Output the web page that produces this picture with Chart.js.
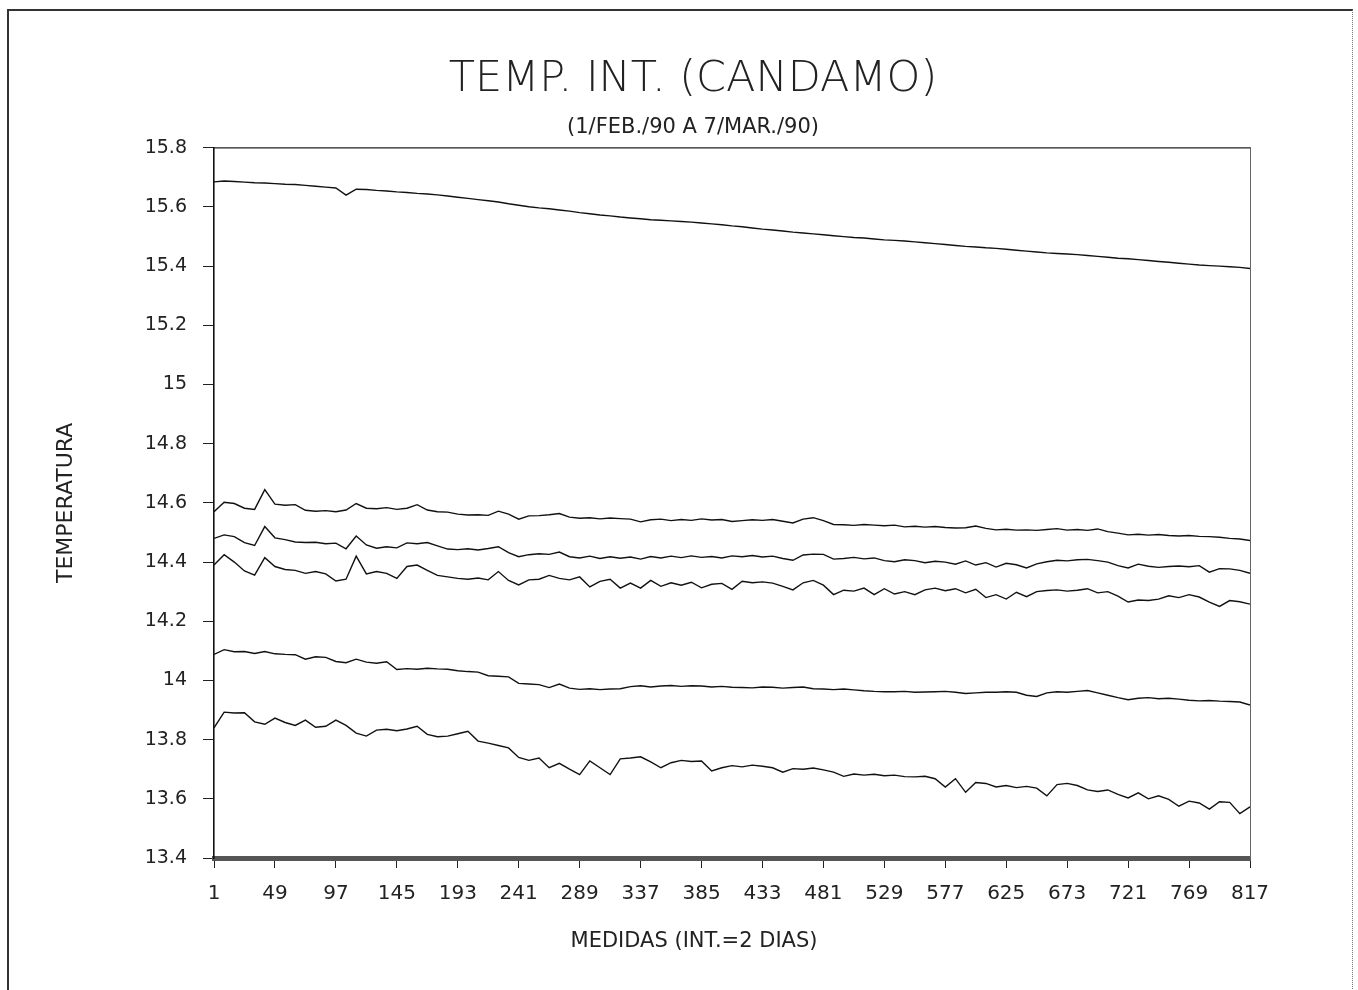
<!DOCTYPE html>
<html lang="es">
<head>
<meta charset="UTF-8">
<title>TEMP. INT. (CANDAMO)</title>
<style>
  html, body { margin: 0; padding: 0; background: #fff; overflow: hidden; }
  #hoja { position: relative; width: 1358px; height: 990px; overflow: hidden; }
  #marco {
    position: absolute; left: 7px; top: 9px; width: 1343px; height: 1000px;
    border-left: 2px solid #333; border-top: 2px solid #333; border-right: 1px dotted #777;
    pointer-events: none;
  }
  #graphic { position: absolute; left: 0; top: 0; }
</style>
</head>
<body>
<div id="hoja">
  <canvas id="graphic" width="1358" height="990"></canvas>
  <div id="marco"></div>
</div>
<script src="https://cdn.jsdelivr.net/npm/chart.js"></script>
<script>
// medidas (cada 8)
const medidas = [1, 9, 17, 25, 33, 41, 49, 57, 65, 73, 81, 89, 97, 105, 113, 121, 129, 137, 145, 153,
  161, 169, 177, 185, 193, 201, 209, 217, 225, 233, 241, 249, 257, 265, 273, 281, 289, 297, 305, 313,
  321, 329, 337, 345, 353, 361, 369, 377, 385, 393, 401, 409, 417, 425, 433, 441, 449, 457, 465, 473,
  481, 489, 497, 505, 513, 521, 529, 537, 545, 553, 561, 569, 577, 585, 593, 601, 609, 617, 625, 633,
  641, 649, 657, 665, 673, 681, 689, 697, 705, 713, 721, 729, 737, 745, 753, 761, 769, 777, 785, 793,
  801, 809, 817];

const xTicks = [1, 49, 97, 145, 193, 241, 289, 337, 385, 433, 481, 529, 577, 625, 673, 721, 769, 817];
const yTicks = [13.4, 13.6, 13.8, 14, 14.2, 14.4, 14.6, 14.8, 15, 15.2, 15.4, 15.6, 15.8];

const serie1 = [15.685, 15.688, 15.686, 15.684, 15.682, 15.681, 15.679, 15.677, 15.676, 15.673,
  15.670, 15.667, 15.664, 15.640, 15.660, 15.659, 15.656, 15.654, 15.651, 15.649,
  15.646, 15.644, 15.641, 15.637, 15.633, 15.629, 15.625, 15.621, 15.617, 15.611,
  15.606, 15.601, 15.597, 15.594, 15.590, 15.586, 15.581, 15.577, 15.573, 15.570,
  15.566, 15.563, 15.560, 15.557, 15.555, 15.553, 15.551, 15.549, 15.546, 15.543,
  15.540, 15.536, 15.533, 15.529, 15.525, 15.522, 15.519, 15.515, 15.512, 15.509,
  15.506, 15.503, 15.500, 15.497, 15.495, 15.492, 15.489, 15.487, 15.485, 15.482,
  15.479, 15.476, 15.473, 15.470, 15.467, 15.465, 15.462, 15.460, 15.457, 15.454,
  15.451, 15.448, 15.445, 15.443, 15.441, 15.439, 15.436, 15.433, 15.430, 15.427,
  15.425, 15.422, 15.419, 15.416, 15.413, 15.410, 15.407, 15.404, 15.402, 15.400,
  15.398, 15.396, 15.392];

const serie2 = [14.570, 14.602, 14.598, 14.582, 14.578, 14.645, 14.596, 14.592, 14.594, 14.575,
  14.572, 14.574, 14.570, 14.576, 14.598, 14.582, 14.580, 14.584, 14.578, 14.582,
  14.594, 14.576, 14.570, 14.569, 14.562, 14.559, 14.560, 14.558, 14.572, 14.562,
  14.545, 14.556, 14.557, 14.560, 14.564, 14.552, 14.548, 14.550, 14.546, 14.549,
  14.547, 14.545, 14.536, 14.543, 14.545, 14.540, 14.544, 14.541, 14.546, 14.542,
  14.544, 14.537, 14.540, 14.543, 14.541, 14.544, 14.538, 14.532, 14.545, 14.550,
  14.540, 14.527, 14.526, 14.524, 14.527, 14.525, 14.523, 14.525, 14.519, 14.521,
  14.518, 14.520, 14.517, 14.515, 14.516, 14.522, 14.514, 14.509, 14.511, 14.508,
  14.509, 14.507, 14.510, 14.513, 14.508, 14.510, 14.507, 14.512, 14.503, 14.498,
  14.492, 14.494, 14.491, 14.493, 14.490, 14.488, 14.490, 14.487, 14.486, 14.484,
  14.480, 14.478, 14.473];

const serie3 = [14.480, 14.492, 14.486, 14.466, 14.456, 14.520, 14.482, 14.476, 14.468, 14.466,
  14.467, 14.462, 14.464, 14.445, 14.488, 14.458, 14.447, 14.452, 14.448, 14.465,
  14.462, 14.466, 14.455, 14.444, 14.442, 14.445, 14.441, 14.446, 14.452, 14.432,
  14.418, 14.425, 14.428, 14.426, 14.434, 14.418, 14.414, 14.420, 14.412, 14.418,
  14.413, 14.417, 14.410, 14.419, 14.414, 14.420, 14.415, 14.421, 14.416, 14.419,
  14.414, 14.421, 14.418, 14.422, 14.417, 14.420, 14.412, 14.406, 14.424, 14.427,
  14.426, 14.410, 14.412, 14.416, 14.411, 14.414, 14.405, 14.401, 14.408, 14.405,
  14.398, 14.403, 14.400, 14.393, 14.404, 14.390, 14.398, 14.383, 14.396, 14.391,
  14.380, 14.394, 14.401, 14.406, 14.404, 14.408, 14.409, 14.405, 14.400, 14.388,
  14.380, 14.393, 14.386, 14.382, 14.385, 14.387, 14.384, 14.388, 14.366, 14.378,
  14.377, 14.372, 14.362];

const serie4 = [14.390, 14.425, 14.400, 14.370, 14.356, 14.415, 14.385, 14.375, 14.372, 14.362,
  14.368, 14.360, 14.336, 14.342, 14.420, 14.360, 14.368, 14.362, 14.345, 14.385,
  14.390, 14.372, 14.355, 14.350, 14.345, 14.342, 14.346, 14.340, 14.368, 14.338,
  14.323, 14.340, 14.342, 14.355, 14.345, 14.340, 14.350, 14.316, 14.335, 14.342,
  14.312, 14.329, 14.312, 14.338, 14.318, 14.330, 14.322, 14.332, 14.313, 14.325,
  14.328, 14.308, 14.335, 14.330, 14.333, 14.329, 14.318, 14.306, 14.330, 14.338,
  14.322, 14.290, 14.305, 14.302, 14.312, 14.290, 14.310, 14.292, 14.300, 14.290,
  14.306, 14.312, 14.303, 14.310, 14.296, 14.308, 14.280, 14.290, 14.275, 14.298,
  14.283, 14.300, 14.304, 14.306, 14.302, 14.305, 14.310, 14.296, 14.300, 14.285,
  14.265, 14.272, 14.270, 14.275, 14.286, 14.280, 14.290, 14.282, 14.265, 14.250,
  14.270, 14.266, 14.258];

const serie5 = [14.088, 14.104, 14.097, 14.098, 14.091, 14.098, 14.090, 14.088, 14.087, 14.072,
  14.080, 14.078, 14.064, 14.060, 14.072, 14.062, 14.058, 14.063, 14.037, 14.040,
  14.038, 14.041, 14.039, 14.038, 14.033, 14.030, 14.028, 14.016, 14.014, 14.012,
  13.990, 13.988, 13.986, 13.976, 13.988, 13.974, 13.970, 13.972, 13.969, 13.971,
  13.972, 13.979, 13.982, 13.978, 13.981, 13.983, 13.980, 13.982, 13.981, 13.978,
  13.980, 13.977, 13.976, 13.975, 13.978, 13.977, 13.974, 13.976, 13.978, 13.972,
  13.971, 13.969, 13.971, 13.968, 13.965, 13.963, 13.962, 13.962, 13.963, 13.960,
  13.961, 13.962, 13.963, 13.960, 13.956, 13.958, 13.960, 13.960, 13.962, 13.960,
  13.950, 13.946, 13.958, 13.962, 13.960, 13.963, 13.966, 13.958, 13.950, 13.942,
  13.935, 13.940, 13.942, 13.938, 13.940, 13.937, 13.933, 13.931, 13.932, 13.930,
  13.929, 13.927, 13.917];

const serie6 = [13.840, 13.893, 13.890, 13.891, 13.860, 13.852, 13.873, 13.858, 13.848, 13.866,
  13.842, 13.845, 13.866, 13.848, 13.822, 13.812, 13.832, 13.835, 13.830, 13.836,
  13.845, 13.818, 13.810, 13.812, 13.820, 13.828, 13.795, 13.788, 13.780, 13.772,
  13.740, 13.730, 13.738, 13.705, 13.720, 13.700, 13.682, 13.728, 13.705, 13.682,
  13.735, 13.738, 13.742, 13.725, 13.705, 13.722, 13.730, 13.726, 13.728, 13.694,
  13.705, 13.712, 13.708, 13.714, 13.710, 13.705, 13.690, 13.702, 13.700, 13.704,
  13.698, 13.690, 13.676, 13.684, 13.680, 13.683, 13.678, 13.680, 13.675, 13.674,
  13.676, 13.668, 13.640, 13.668, 13.622, 13.655, 13.652, 13.640, 13.645, 13.638,
  13.642, 13.636, 13.610, 13.648, 13.652, 13.645, 13.630, 13.625, 13.630, 13.615,
  13.603, 13.620, 13.600, 13.610, 13.598, 13.575, 13.592, 13.586, 13.565, 13.590,
  13.588, 13.550, 13.573];

const series = [serie1, serie2, serie3, serie4, serie5, serie6];

document.addEventListener("DOMContentLoaded", () => {
  const lienzo = document.getElementById("graphic");
  const fuente = "'DejaVu Sans', 'Liberation Sans', sans-serif";
  Chart.defaults.font.family = fuente;
  Chart.defaults.color = "#222";

  // linea superior del marco + rotulo del eje X
  const marcoPlugin = {
    id: "marco",
    beforeDatasetsDraw(chart) {
      const { ctx, chartArea: a } = chart;
      ctx.save();
      ctx.strokeStyle = "#222";
      ctx.lineWidth = 1.3;
      ctx.beginPath();
      ctx.moveTo(a.left, a.top);
      ctx.lineTo(a.right, a.top);
      ctx.stroke();
      ctx.restore();
    },
    afterDraw(chart) {
      const { ctx } = chart;
      ctx.save();
      ctx.font = "21px " + fuente;
      ctx.fillStyle = "#222";
      ctx.textAlign = "center";
      ctx.textBaseline = "middle";
      ctx.fillText("MEDIDAS (INT.=2 DIAS)", 694, 942);
      ctx.restore();
    }
  };

  const graficoLineas = new Chart(lienzo, {
    type: "line",
    data: {
      datasets: series.map((s, i) => ({
        label: "serie " + (i + 1),
        data: medidas.map((m, j) => ({ x: m, y: s[j] })),
        borderColor: "#111",
        borderWidth: 1.4,
        pointRadius: 0,
        tension: 0,
        fill: false
      }))
    },
    options: {
      responsive: false,
      animation: false,
      layout: { padding: { left: 28, right: 0, top: 0, bottom: 0 } },
      plugins: {
        legend: { display: false },
        tooltip: { enabled: false },
        title: {
          display: true,
          text: "TEMP. INT. (CANDAMO)",
          color: "#222",
          font: { size: 43, weight: "200" },
          padding: { top: 54, bottom: 0 }
        },
        subtitle: {
          display: true,
          text: "(1/FEB./90 A 7/MAR./90)",
          color: "#222",
          font: { size: 21, weight: "normal" },
          padding: { top: 9, bottom: 8 }
        }
      },
      scales: {
        x: {
          type: "linear",
          min: 1,
          max: 817,
          afterBuildTicks: (scale) => { scale.ticks = xTicks.map((v) => ({ value: v })); },
          afterFit: (scale) => { scale.height = 132; },
          grid: { drawOnChartArea: false, drawTicks: true, tickLength: 10, color: "#222" },
          border: { display: true, color: "#555", width: 5 },
          ticks: { autoSkip: false, maxRotation: 0, padding: 14, font: { size: 20 }, color: "#222" }
        },
        y: {
          min: 13.4,
          max: 15.8,
          afterBuildTicks: (scale) => { scale.ticks = yTicks.map((v) => ({ value: v })); },
          afterFit: (scale) => { scale.width = 186; },
          grid: { drawOnChartArea: false, drawTicks: true, tickLength: 11, color: "#222" },
          border: { display: true, color: "#111", width: 1.6 },
          ticks: {
            padding: 16,
            font: { size: 19 },
            color: "#222",
            callback: (v) => String(Math.round(v * 10) / 10)
          },
          title: {
            display: true,
            text: "TEMPERATURA",
            color: "#222",
            font: { size: 22 },
            padding: { top: 25, bottom: 0 }
          }
        },
        // eje derecho solo como borde punteado del recuadro
        y2: {
          position: "right",
          min: 13.4,
          max: 15.8,
          afterFit: (scale) => { scale.width = 108; },
          grid: { drawOnChartArea: false, drawTicks: false },
          border: { display: true, color: "#666", width: 1, dash: [2, 1] },
          ticks: { display: false }
        }
      }
    },
    plugins: [marcoPlugin]
  });
});
</script>
</body>
</html>
